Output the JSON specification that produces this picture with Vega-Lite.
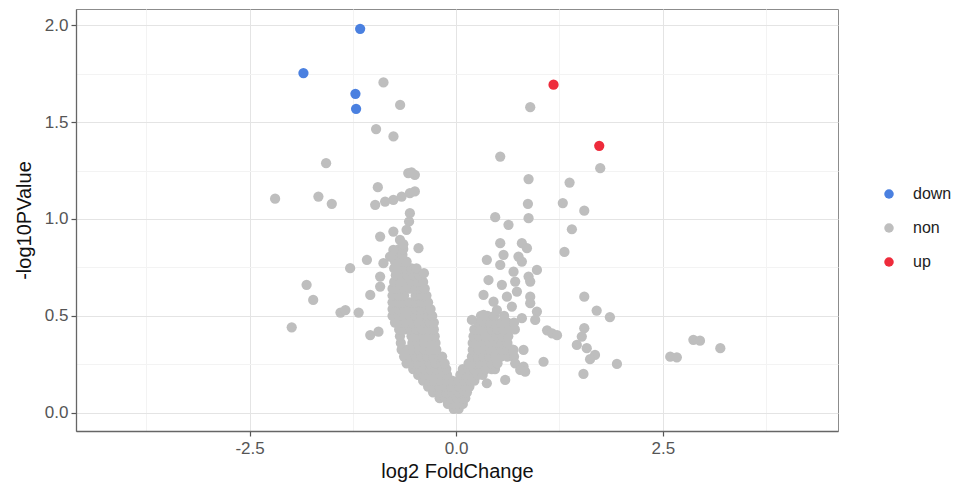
{
  "$schema": "https://vega.github.io/schema/vega-lite/v6.json",
  "width": 762,
  "height": 422,
  "autosize": "none",
  "padding": {"left": 76, "top": 9, "right": 123, "bottom": 56},
  "background": "white",
  "config": {
    "view": {"stroke": "#8c8c8c", "strokeWidth": 1},
    "font": "Liberation Sans"
  },
  "data": {"values": [
    {"x":-0.03,"y":0.02,"g":"non"},{"x":0.03,"y":0.02,"g":"non"},
    {"x":-0.1,"y":0.045,"g":"non"},{"x":-0.03,"y":0.045,"g":"non"},{"x":0.04,"y":0.045,"g":"non"},{"x":0.08,"y":0.045,"g":"non"},
    {"x":-0.2,"y":0.075,"g":"non"},{"x":-0.13,"y":0.075,"g":"non"},{"x":-0.06,"y":0.075,"g":"non"},{"x":0.01,"y":0.075,"g":"non"},{"x":0.08,"y":0.075,"g":"non"},{"x":0.11,"y":0.075,"g":"non"},
    {"x":-0.28,"y":0.105,"g":"non"},{"x":-0.2,"y":0.105,"g":"non"},{"x":-0.12,"y":0.105,"g":"non"},{"x":-0.05,"y":0.105,"g":"non"},{"x":0.03,"y":0.105,"g":"non"},{"x":0.1,"y":0.105,"g":"non"},{"x":0.13,"y":0.105,"g":"non"},
    {"x":-0.34,"y":0.135,"g":"non"},{"x":-0.27,"y":0.135,"g":"non"},{"x":-0.2,"y":0.135,"g":"non"},{"x":-0.13,"y":0.135,"g":"non"},{"x":-0.06,"y":0.135,"g":"non"},{"x":0.04,"y":0.135,"g":"non"},{"x":0.11,"y":0.135,"g":"non"},{"x":0.16,"y":0.135,"g":"non"},
    {"x":-0.4,"y":0.165,"g":"non"},{"x":-0.33,"y":0.165,"g":"non"},{"x":-0.26,"y":0.165,"g":"non"},{"x":-0.19,"y":0.165,"g":"non"},{"x":-0.12,"y":0.165,"g":"non"},{"x":-0.05,"y":0.165,"g":"non"},{"x":0.03,"y":0.165,"g":"non"},{"x":0.1,"y":0.165,"g":"non"},{"x":0.17,"y":0.165,"g":"non"},{"x":0.22,"y":0.165,"g":"non"},
    {"x":-0.46,"y":0.195,"g":"non"},{"x":-0.39,"y":0.195,"g":"non"},{"x":-0.32,"y":0.195,"g":"non"},{"x":-0.25,"y":0.195,"g":"non"},{"x":-0.18,"y":0.195,"g":"non"},{"x":-0.11,"y":0.195,"g":"non"},{"x":0.05,"y":0.195,"g":"non"},{"x":0.12,"y":0.195,"g":"non"},{"x":0.19,"y":0.195,"g":"non"},{"x":0.26,"y":0.195,"g":"non"},{"x":0.32,"y":0.195,"g":"non"},
    {"x":-0.52,"y":0.225,"g":"non"},{"x":-0.45,"y":0.225,"g":"non"},{"x":-0.38,"y":0.225,"g":"non"},{"x":-0.31,"y":0.225,"g":"non"},{"x":-0.24,"y":0.225,"g":"non"},{"x":-0.17,"y":0.225,"g":"non"},{"x":-0.12,"y":0.225,"g":"non"},{"x":0.08,"y":0.225,"g":"non"},{"x":0.15,"y":0.225,"g":"non"},{"x":0.22,"y":0.225,"g":"non"},{"x":0.29,"y":0.225,"g":"non"},{"x":0.36,"y":0.225,"g":"non"},{"x":0.43,"y":0.225,"g":"non"},{"x":0.47,"y":0.225,"g":"non"},
    {"x":-0.6,"y":0.255,"g":"non"},{"x":-0.53,"y":0.255,"g":"non"},{"x":-0.46,"y":0.255,"g":"non"},{"x":-0.39,"y":0.255,"g":"non"},{"x":-0.32,"y":0.255,"g":"non"},{"x":-0.25,"y":0.255,"g":"non"},{"x":-0.18,"y":0.255,"g":"non"},{"x":-0.14,"y":0.255,"g":"non"},{"x":0.15,"y":0.255,"g":"non"},{"x":0.22,"y":0.255,"g":"non"},{"x":0.29,"y":0.255,"g":"non"},{"x":0.36,"y":0.255,"g":"non"},{"x":0.43,"y":0.255,"g":"non"},{"x":0.5,"y":0.255,"g":"non"},
    {"x":-0.63,"y":0.29,"g":"non"},{"x":-0.56,"y":0.29,"g":"non"},{"x":-0.49,"y":0.29,"g":"non"},{"x":-0.42,"y":0.29,"g":"non"},{"x":-0.35,"y":0.29,"g":"non"},{"x":-0.28,"y":0.29,"g":"non"},{"x":-0.21,"y":0.29,"g":"non"},{"x":-0.17,"y":0.29,"g":"non"},{"x":0.19,"y":0.29,"g":"non"},{"x":0.26,"y":0.29,"g":"non"},{"x":0.33,"y":0.29,"g":"non"},{"x":0.4,"y":0.29,"g":"non"},{"x":0.47,"y":0.29,"g":"non"},{"x":0.54,"y":0.29,"g":"non"},{"x":0.62,"y":0.29,"g":"non"},{"x":0.7,"y":0.29,"g":"non"},
    {"x":-0.66,"y":0.325,"g":"non"},{"x":-0.59,"y":0.325,"g":"non"},{"x":-0.52,"y":0.325,"g":"non"},{"x":-0.45,"y":0.325,"g":"non"},{"x":-0.38,"y":0.325,"g":"non"},{"x":-0.31,"y":0.325,"g":"non"},{"x":-0.24,"y":0.325,"g":"non"},{"x":0.2,"y":0.325,"g":"non"},{"x":0.27,"y":0.325,"g":"non"},{"x":0.34,"y":0.325,"g":"non"},{"x":0.41,"y":0.325,"g":"non"},{"x":0.48,"y":0.325,"g":"non"},{"x":0.55,"y":0.325,"g":"non"},{"x":0.62,"y":0.325,"g":"non"},{"x":0.68,"y":0.325,"g":"non"},
    {"x":-0.67,"y":0.36,"g":"non"},{"x":-0.53,"y":0.36,"g":"non"},{"x":-0.46,"y":0.36,"g":"non"},{"x":-0.39,"y":0.36,"g":"non"},{"x":-0.32,"y":0.36,"g":"non"},{"x":-0.25,"y":0.36,"g":"non"},{"x":0.2,"y":0.36,"g":"non"},{"x":0.27,"y":0.36,"g":"non"},{"x":0.34,"y":0.36,"g":"non"},{"x":0.41,"y":0.36,"g":"non"},{"x":0.48,"y":0.36,"g":"non"},{"x":0.55,"y":0.36,"g":"non"},{"x":0.62,"y":0.36,"g":"non"},
    {"x":-0.68,"y":0.395,"g":"non"},{"x":-0.54,"y":0.395,"g":"non"},{"x":-0.47,"y":0.395,"g":"non"},{"x":-0.4,"y":0.395,"g":"non"},{"x":-0.33,"y":0.395,"g":"non"},{"x":-0.26,"y":0.395,"g":"non"},{"x":0.21,"y":0.395,"g":"non"},{"x":0.28,"y":0.395,"g":"non"},{"x":0.35,"y":0.395,"g":"non"},{"x":0.42,"y":0.395,"g":"non"},{"x":0.49,"y":0.395,"g":"non"},{"x":0.56,"y":0.395,"g":"non"},{"x":0.63,"y":0.395,"g":"non"},
    {"x":-0.69,"y":0.43,"g":"non"},{"x":-0.62,"y":0.43,"g":"non"},{"x":-0.55,"y":0.43,"g":"non"},{"x":-0.48,"y":0.43,"g":"non"},{"x":-0.41,"y":0.43,"g":"non"},{"x":-0.34,"y":0.43,"g":"non"},{"x":-0.27,"y":0.43,"g":"non"},{"x":0.22,"y":0.43,"g":"non"},{"x":0.29,"y":0.43,"g":"non"},{"x":0.36,"y":0.43,"g":"non"},{"x":0.43,"y":0.43,"g":"non"},{"x":0.5,"y":0.43,"g":"non"},{"x":0.57,"y":0.43,"g":"non"},{"x":0.64,"y":0.43,"g":"non"},{"x":0.71,"y":0.43,"g":"non"},
    {"x":-0.74,"y":0.465,"g":"non"},{"x":-0.67,"y":0.465,"g":"non"},{"x":-0.6,"y":0.465,"g":"non"},{"x":-0.53,"y":0.465,"g":"non"},{"x":-0.46,"y":0.465,"g":"non"},{"x":-0.39,"y":0.465,"g":"non"},{"x":-0.32,"y":0.465,"g":"non"},{"x":-0.27,"y":0.465,"g":"non"},{"x":0.27,"y":0.465,"g":"non"},{"x":0.34,"y":0.465,"g":"non"},{"x":0.41,"y":0.465,"g":"non"},{"x":0.48,"y":0.465,"g":"non"},{"x":0.55,"y":0.465,"g":"non"},{"x":0.62,"y":0.465,"g":"non"},{"x":0.7,"y":0.465,"g":"non"},
    {"x":-0.77,"y":0.5,"g":"non"},{"x":-0.7,"y":0.5,"g":"non"},{"x":-0.63,"y":0.5,"g":"non"},{"x":-0.56,"y":0.5,"g":"non"},{"x":-0.49,"y":0.5,"g":"non"},{"x":-0.42,"y":0.5,"g":"non"},{"x":-0.35,"y":0.5,"g":"non"},{"x":-0.29,"y":0.5,"g":"non"},{"x":0.3,"y":0.5,"g":"non"},{"x":0.38,"y":0.5,"g":"non"},{"x":0.46,"y":0.5,"g":"non"},{"x":0.58,"y":0.5,"g":"non"},
    {"x":-0.77,"y":0.535,"g":"non"},{"x":-0.7,"y":0.535,"g":"non"},{"x":-0.63,"y":0.535,"g":"non"},{"x":-0.56,"y":0.535,"g":"non"},{"x":-0.49,"y":0.535,"g":"non"},{"x":-0.42,"y":0.535,"g":"non"},{"x":-0.35,"y":0.535,"g":"non"},{"x":-0.31,"y":0.535,"g":"non"},
    {"x":-0.77,"y":0.57,"g":"non"},{"x":-0.7,"y":0.57,"g":"non"},{"x":-0.63,"y":0.57,"g":"non"},{"x":-0.56,"y":0.57,"g":"non"},{"x":-0.49,"y":0.57,"g":"non"},{"x":-0.42,"y":0.57,"g":"non"},{"x":-0.34,"y":0.57,"g":"non"},
    {"x":-0.77,"y":0.605,"g":"non"},{"x":-0.7,"y":0.605,"g":"non"},{"x":-0.63,"y":0.605,"g":"non"},{"x":-0.49,"y":0.605,"g":"non"},{"x":-0.42,"y":0.605,"g":"non"},{"x":-0.36,"y":0.605,"g":"non"},
    {"x":-0.77,"y":0.64,"g":"non"},{"x":-0.7,"y":0.64,"g":"non"},{"x":-0.63,"y":0.64,"g":"non"},{"x":-0.56,"y":0.64,"g":"non"},{"x":-0.49,"y":0.64,"g":"non"},{"x":-0.42,"y":0.64,"g":"non"},{"x":-0.38,"y":0.64,"g":"non"},
    {"x":-0.75,"y":0.675,"g":"non"},{"x":-0.68,"y":0.675,"g":"non"},{"x":-0.61,"y":0.675,"g":"non"},{"x":-0.54,"y":0.675,"g":"non"},{"x":-0.47,"y":0.675,"g":"non"},{"x":-0.4,"y":0.675,"g":"non"},
    {"x":-0.73,"y":0.71,"g":"non"},{"x":-0.66,"y":0.71,"g":"non"},{"x":-0.59,"y":0.71,"g":"non"},{"x":-0.52,"y":0.71,"g":"non"},{"x":-0.45,"y":0.71,"g":"non"},
    {"x":-0.75,"y":0.745,"g":"non"},{"x":-0.68,"y":0.745,"g":"non"},{"x":-0.61,"y":0.745,"g":"non"},{"x":-0.54,"y":0.745,"g":"non"},{"x":-0.48,"y":0.745,"g":"non"},
    {"x":-0.74,"y":0.78,"g":"non"},{"x":-0.67,"y":0.78,"g":"non"},{"x":-0.6,"y":0.78,"g":"non"},
    {"x":-0.72,"y":0.815,"g":"non"},{"x":-0.65,"y":0.815,"g":"non"},
    {"x":-0.69,"y":0.845,"g":"non"},{"x":-0.64,"y":0.845,"g":"non"},
    {"x":-0.88,"y":1.705,"g":"non"},{"x":-0.678,"y":1.589,"g":"non"},{"x":-0.969,"y":1.464,"g":"non"},{"x":-0.759,"y":1.426,"g":"non"},{"x":-1.574,"y":1.288,"g":"non"},{"x":-0.948,"y":1.164,"g":"non"},{"x":-2.191,"y":1.105,"g":"non"},{"x":-1.667,"y":1.116,"g":"non"},{"x":-1.505,"y":1.078,"g":"non"},
    {"x":-0.58,"y":1.237,"g":"non"},{"x":-0.5,"y":1.228,"g":"non"},{"x":-0.54,"y":1.24,"g":"non"},
    {"x":-0.98,"y":1.073,"g":"non"},{"x":-0.86,"y":1.09,"g":"non"},{"x":-0.76,"y":1.099,"g":"non"},{"x":-0.66,"y":1.116,"g":"non"},{"x":-0.56,"y":1.133,"g":"non"},{"x":-0.5,"y":1.142,"g":"non"},
    {"x":-0.56,"y":1.03,"g":"non"},{"x":-0.57,"y":0.987,"g":"non"},{"x":-0.6,"y":0.944,"g":"non"},
    {"x":-0.92,"y":0.909,"g":"non"},{"x":-0.76,"y":0.935,"g":"non"},{"x":-0.68,"y":0.892,"g":"non"},{"x":-0.76,"y":0.84,"g":"non"},{"x":-0.64,"y":0.87,"g":"non"},{"x":-0.456,"y":0.849,"g":"non"},
    {"x":-1.08,"y":0.789,"g":"non"},{"x":-1.283,"y":0.746,"g":"non"},{"x":-0.88,"y":0.772,"g":"non"},{"x":-0.8,"y":0.806,"g":"non"},{"x":-0.92,"y":0.703,"g":"non"},{"x":-0.39,"y":0.72,"g":"non"},{"x":-0.92,"y":0.651,"g":"non"},
    {"x":-1.81,"y":0.66,"g":"non"},{"x":-1.73,"y":0.582,"g":"non"},{"x":-1.04,"y":0.608,"g":"non"},{"x":-1.4,"y":0.517,"g":"non"},{"x":-1.34,"y":0.53,"g":"non"},{"x":-1.18,"y":0.517,"g":"non"},{"x":-1.99,"y":0.441,"g":"non"},{"x":-1.04,"y":0.401,"g":"non"},{"x":-0.94,"y":0.418,"g":"non"},
    {"x":0.896,"y":1.577,"g":"non"},{"x":0.533,"y":1.322,"g":"non"},{"x":1.743,"y":1.262,"g":"non"},{"x":0.876,"y":1.206,"g":"non"},{"x":1.372,"y":1.188,"g":"non"},{"x":0.868,"y":1.078,"g":"non"},{"x":1.29,"y":1.082,"g":"non"},{"x":1.55,"y":1.043,"g":"non"},{"x":0.472,"y":1.009,"g":"non"},{"x":0.633,"y":0.97,"g":"non"},{"x":0.876,"y":1.004,"g":"non"},{"x":1.4,"y":0.947,"g":"non"},
    {"x":0.533,"y":0.875,"g":"non"},{"x":0.795,"y":0.875,"g":"non"},{"x":1.31,"y":0.83,"g":"non"},
    {"x":0.371,"y":0.789,"g":"non"},{"x":0.573,"y":0.815,"g":"non"},{"x":0.754,"y":0.806,"g":"non"},{"x":0.856,"y":0.849,"g":"non"},{"x":0.533,"y":0.763,"g":"non"},{"x":0.795,"y":0.78,"g":"non"},
    {"x":0.391,"y":0.685,"g":"non"},{"x":0.553,"y":0.66,"g":"non"},{"x":0.694,"y":0.728,"g":"non"},{"x":0.876,"y":0.703,"g":"non"},{"x":0.977,"y":0.737,"g":"non"},{"x":0.714,"y":0.677,"g":"non"},{"x":0.896,"y":0.677,"g":"non"},
    {"x":0.331,"y":0.608,"g":"non"},{"x":0.452,"y":0.573,"g":"non"},{"x":0.614,"y":0.599,"g":"non"},{"x":0.735,"y":0.625,"g":"non"},{"x":0.896,"y":0.599,"g":"non"},{"x":0.977,"y":0.522,"g":"non"},{"x":0.956,"y":0.479,"g":"non"},{"x":0.896,"y":0.565,"g":"non"},
    {"x":0.19,"y":0.479,"g":"non"},{"x":0.331,"y":0.505,"g":"non"},{"x":0.493,"y":0.53,"g":"non"},{"x":0.674,"y":0.548,"g":"non"},{"x":0.795,"y":0.488,"g":"non"},
    {"x":1.1,"y":0.425,"g":"non"},{"x":1.16,"y":0.41,"g":"non"},{"x":1.22,"y":0.4,"g":"non"},
    {"x":0.694,"y":0.324,"g":"non"},{"x":0.815,"y":0.324,"g":"non"},{"x":0.714,"y":0.255,"g":"non"},{"x":0.815,"y":0.238,"g":"non"},{"x":0.775,"y":0.221,"g":"non"},{"x":0.835,"y":0.212,"g":"non"},{"x":1.057,"y":0.263,"g":"non"},{"x":0.593,"y":0.169,"g":"non"},{"x":0.371,"y":0.152,"g":"non"},
    {"x":1.55,"y":0.599,"g":"non"},{"x":1.7,"y":0.527,"g":"non"},{"x":1.86,"y":0.493,"g":"non"},{"x":1.55,"y":0.436,"g":"non"},{"x":1.52,"y":0.393,"g":"non"},{"x":1.46,"y":0.35,"g":"non"},{"x":1.58,"y":0.333,"g":"non"},{"x":1.68,"y":0.298,"g":"non"},{"x":1.62,"y":0.276,"g":"non"},{"x":1.945,"y":0.252,"g":"non"},{"x":1.54,"y":0.2,"g":"non"},
    {"x":2.59,"y":0.289,"g":"non"},{"x":2.67,"y":0.286,"g":"non"},{"x":2.87,"y":0.376,"g":"non"},{"x":2.95,"y":0.372,"g":"non"},{"x":3.196,"y":0.333,"g":"non"},
    {"x":-1.162,"y":1.982,"g":"down"},{"x":-1.848,"y":1.753,"g":"down"},{"x":-1.219,"y":1.646,"g":"down"},{"x":-1.211,"y":1.569,"g":"down"},
    {"x":1.178,"y":1.693,"g":"up"},{"x":1.731,"y":1.378,"g":"up"}
  ]},
  "mark": {"type": "circle", "size": 105, "opacity": 1},
  "encoding": {
    "x": {
      "field": "x", "type": "quantitative",
      "scale": {"domain": [-4.6, 4.62], "nice": false, "zero": false},
      "title": "log2 FoldChange",
      "axis": {
        "values": [-3.75, -2.5, -1.25, 0, 1.25, 2.5, 3.75],
        "labelExpr": "datum.value % 2.5 == 0 ? replace(format(datum.value, '.1f'), '\u2212', '-') : ''",
        "gridColor": {"condition": {"test": "datum.value % 2.5 != 0", "value": "#f3f3f3"}, "value": "#e4e4e4"},
        "tickOpacity": {"condition": {"test": "datum.value % 2.5 != 0", "value": 0}, "value": 1},
        "tickColor": "#555555", "tickSize": 5, "tickWidth": 1.2,
        "domainColor": "#666666", "domainWidth": 1.3,
        "labelColor": "#555555", "labelFontSize": 17, "labelPadding": 4, "labelFlush": false, "labelOverlap": false,
        "titleFontSize": 20, "titleFontWeight": "normal", "titleColor": "#111111", "titlePadding": 5
      }
    },
    "y": {
      "field": "y", "type": "quantitative",
      "scale": {"domain": [-0.0945, 2.084], "nice": false, "zero": false},
      "title": "-log10PValue",
      "axis": {
        "values": [0, 0.25, 0.5, 0.75, 1, 1.25, 1.5, 1.75, 2],
        "labelExpr": "datum.value % 0.5 == 0 ? format(datum.value, '.1f') : ''",
        "gridColor": {"condition": {"test": "datum.value % 0.5 != 0", "value": "#f3f3f3"}, "value": "#e4e4e4"},
        "tickOpacity": {"condition": {"test": "datum.value % 0.5 != 0", "value": 0}, "value": 1},
        "tickColor": "#555555", "tickSize": 5, "tickWidth": 1.2,
        "domainColor": "#666666", "domainWidth": 1.3,
        "labelColor": "#555555", "labelFontSize": 17, "labelPadding": 3, "labelFlush": false, "labelOverlap": false,
        "titleFontSize": 20, "titleFontWeight": "normal", "titleColor": "#111111", "titlePadding": 10
      }
    },
    "color": {
      "field": "g", "type": "nominal",
      "scale": {"domain": ["down", "non", "up"], "range": ["#4a80e0", "#bebebe", "#ee2b3b"]},
      "legend": {
        "title": null, "orient": "none", "legendX": 805, "legendY": 177,
        "symbolType": "circle", "symbolSize": 90, "symbolStrokeWidth": 0,
        "labelFontSize": 16, "labelColor": "#222222", "labelOffset": 16, "rowPadding": 18
      }
    }
  }
}
